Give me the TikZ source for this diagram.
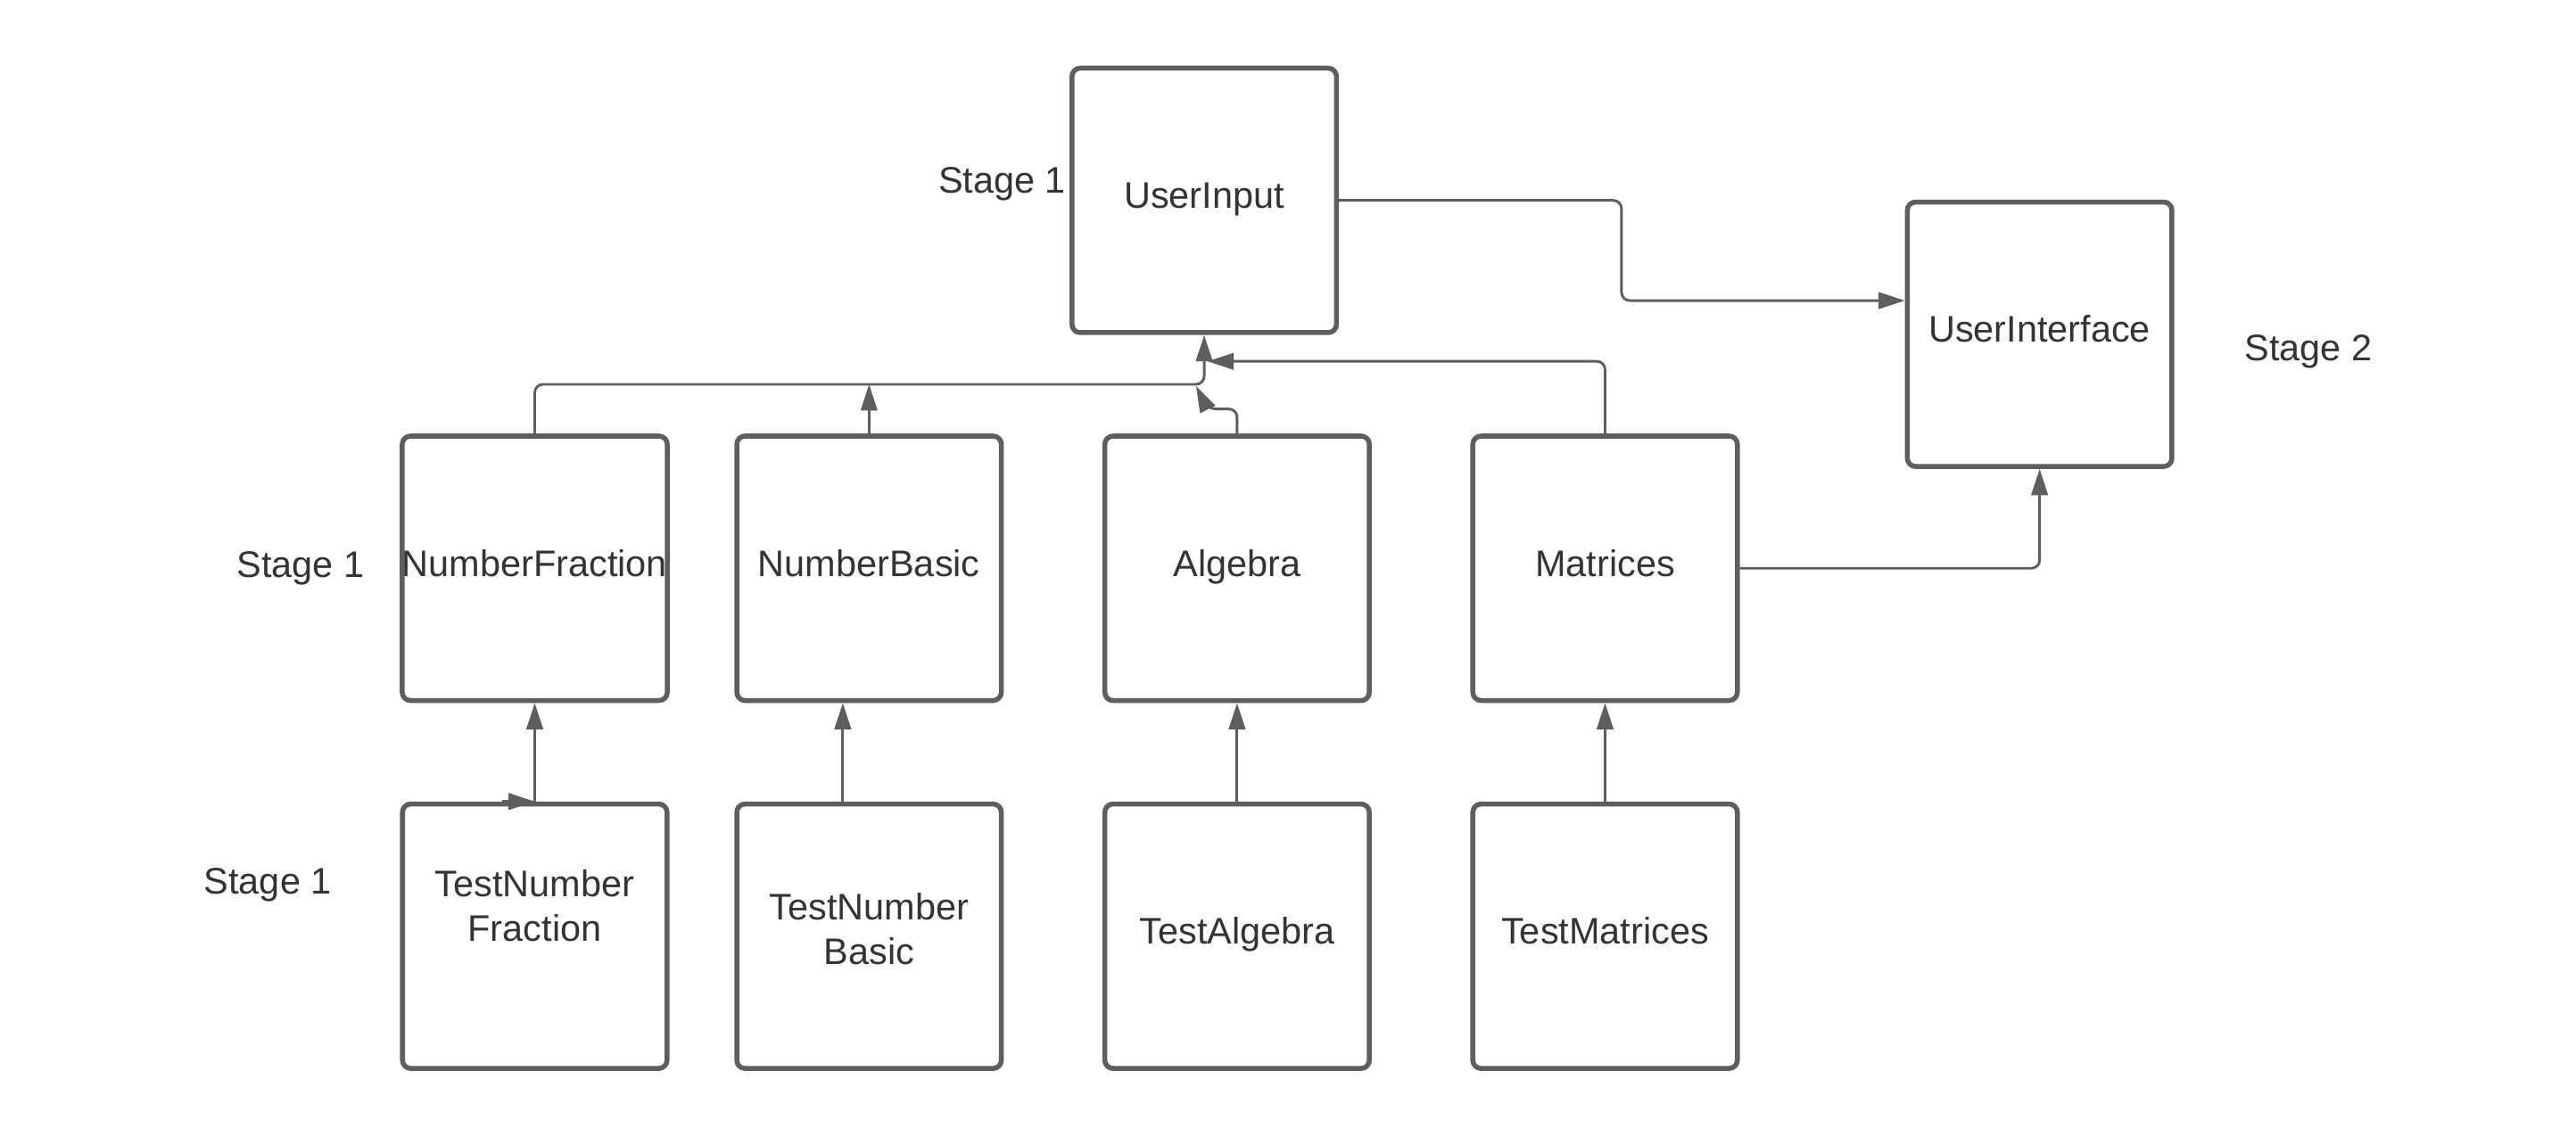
\documentclass[tikz,border=0pt]{standalone}
\usepackage{fontspec}
\setmainfont{Liberation Sans}
\usetikzlibrary{arrows.meta}

\definecolor{linegray}{HTML}{5E5E5E}
\definecolor{textgray}{HTML}{333333}

\begin{document}
\begin{tikzpicture}[x=1pt,y=-1pt,
  every node/.style={font=\fontsize{22.5}{27}\selectfont, text=textgray},
  box/.style={draw=linegray, line width=3pt, rounded corners=5pt,
    minimum width=161pt, minimum height=161pt, align=center, inner xsep=0pt,
    text height=17pt, text depth=7.5pt},
  conn/.style={draw=linegray, line width=1.6pt, rounded corners=5pt,
    -{Triangle[length=16pt,width=10pt]}}]
\useasboundingbox (0,0) rectangle (1568,692);

\node[box] (ui) at (733,122) {UserInput};
\node[box] (uif) at (1241.5,203.5) {UserInterface};

\node[box] (nf) at (325.5,346) {NumberFraction};
\node[box] (nb) at (529,346) {NumberBasic};
\node[box] (al) at (753,346) {Algebra};
\node[box] (ma) at (977,346) {Matrices};

\node[box, text height=46pt, text depth=40pt] (tnf) at (325.5,570) {TestNumber\\Fraction};
\node[box, text height=54pt, text depth=20pt] (tnb) at (529,570) {TestNumber\\Basic};
\node[box] (tal) at (753,570) {TestAlgebra};
\node[box] (tma) at (977,570) {TestMatrices};

\node (st1) at (610,112) {Stage 1};
\node (st2) at (1405,214) {Stage 2};
\node (st3) at (183,346) {Stage 1};
\node (st4) at (163,539) {Stage 1};

\draw[conn] (ui.east) -- (987,122) -- (987,183) -- (uif.west |- 0,183);
\draw[conn] (nf.north) -- (325.5,234) -- (733,234) -- (ui.south);
\draw[conn] (nb.north) -- (529,234);
\draw[conn] (al.north) -- (753,249) -- (735,249) -- (728,235);
\draw[conn] (ma.north) -- (977,220) -- (735,220);
\draw[conn] (ma.east) -- (uif.south |- 0,346) -- (uif.south);

\draw[conn] (tnf.north) -- (nf.south);
\draw[conn] ([xshift=-20pt]tnf.north) -- (tnf.north);
\draw[conn] ([xshift=-16pt]tnb.north) -- ([xshift=-16pt]nb.south);
\draw[conn] (tal.north) -- (al.south);
\draw[conn] (tma.north) -- (ma.south);
\end{tikzpicture}
\end{document}
